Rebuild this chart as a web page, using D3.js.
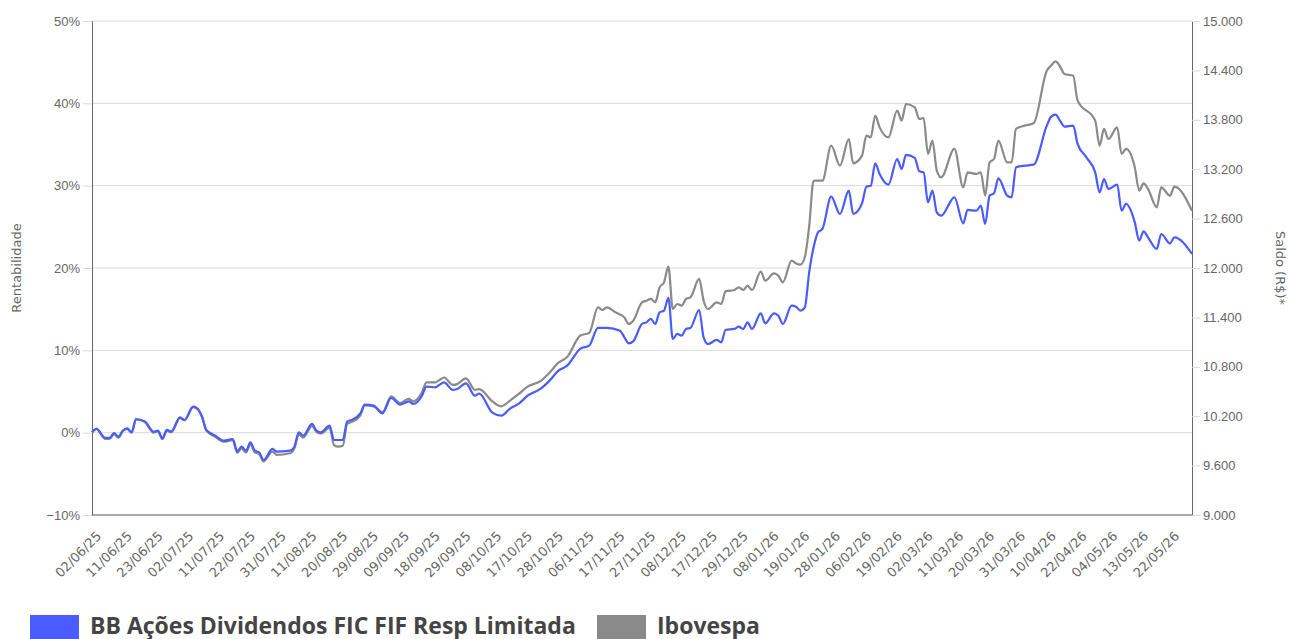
<html>
<head>
<meta charset="utf-8">
<script src="https://d3js.org/d3.v7.min.js"></script>
<style>
	body {margin: 0; background: #fff;}
	svg {display: block; font-family: "DejaVu Sans", sans-serif;}
</style>
</head>
<body>
<div id="chart"></div>
<script>
// rotulos do eixo x (um a cada 7 pregoes)
var rotulosX = ["02/06/25","11/06/25","23/06/25","02/07/25","11/07/25","22/07/25","31/07/25","11/08/25",
	"20/08/25","29/08/25","09/09/25","18/09/25","29/09/25","08/10/25","17/10/25","28/10/25","06/11/25",
	"17/11/25","27/11/25","08/12/25","17/12/25","29/12/25","08/01/26","19/01/26","28/01/26","06/02/26",
	"19/02/26","02/03/26","11/03/26","20/03/26","31/03/26","10/04/26","22/04/26","04/05/26","13/05/26","22/05/26"];
var totalPregoes = 251;

var ticksRent = [-10, 0, 10, 20, 30, 40, 50];
var ticksSaldo = [9000, 9600, 10200, 10800, 11400, 12000, 12600, 13200, 13800, 14400, 15000];

var nomeFundo = "BB Ações Dividendos FIC FIF Resp Limitada";
var nomeIbov = "Ibovespa";

// rentabilidade do fundo (% acumulado) por numero do pregao
var diasFundo = [0,1,3,4,5,6,7,8,9,10,12,14,15,16,17,18,20,21,23,24,25,26,28,30,32,33,34,35,36,37,38,39,41,42,45,46,47,48,
	50,51,52,54,55,56,57,58,59,61,62,64,66,68,70,72,73,75,76,78,79,80,82,83,85,87,88,91,93,95,97,99,102,104,106,108,
	111,113,115,117,120,121,122,123,125,126,127,128,129,130,131,132,133,134,135,136,138,139,140,142,143,144,146,147,
	148,149,150,152,153,155,156,157,159,160,161,162,163,164,165,166,168,170,172,173,175,176,177,178,179,181,183,184,
	185,187,188,189,190,191,192,193,196,198,199,201,202,203,204,205,206,208,209,210,212,214,217,218,219,220,221,223,
	224,226,228,229,230,231,233,234,235,237,238,239,240,242,243,245,246,250];
var fundo = [0.04,0.45,-0.64,-0.64,-0.04,-0.49,0.24,0.52,0.04,1.66,1.37,0.12,0.24,-0.69,0.33,0.12,1.86,1.54,3.16,2.9,1.95,
	0.33,-0.36,-0.97,-0.77,-2.27,-1.70,-2.19,-1.18,-2.19,-2.39,-3.32,-1.98,-2.31,-2.19,-1.70,0.04,-0.36,1.06,0.24,0.04,
	0.85,-0.89,-0.89,-0.89,1.37,1.54,2.34,3.40,3.28,2.34,4.21,3.40,3.80,3.49,4.49,5.59,5.50,5.83,6.11,5.19,5.31,5.99,
	4.49,4.74,2.43,2.06,2.92,3.52,4.49,5.34,6.32,7.53,8.14,10.2,10.57,12.72,12.72,12.39,11.58,10.85,11.09,13.20,13.40,
	13.81,13.20,14.61,14.82,16.36,11.38,11.99,11.78,12.60,12.72,14.90,11.58,10.77,11.26,10.97,12.47,12.60,12.88,12.60,
	13.40,12.60,14.49,13.28,14.49,14.21,13.20,15.43,15.30,14.82,15.22,19.5,22.51,24.33,24.74,28.66,26.56,29.39,26.56,
	27.85,29.88,30.0,32.71,31.42,30.12,33.24,32.03,33.73,33.37,31.74,31.62,27.97,29.39,26.76,26.36,28.58,25.42,27.05,
	26.96,27.57,25.35,28.79,29.07,30.89,28.79,28.58,32.22,32.43,32.55,37.29,38.38,38.63,37.90,37.17,37.29,35.07,33.44,
	31.62,29.19,30.81,29.60,30.12,26.96,27.78,25.54,23.32,24.45,23.72,22.31,24.13,22.99,23.72,21.71];

// rentabilidade do Ibovespa
var diasIbov = [0,1,3,4,5,6,7,8,9,10,12,14,15,16,17,18,20,21,23,24,25,26,28,30,32,33,34,35,36,37,38,39,41,42,45,46,47,48,
	50,51,52,54,55,56,57,58,59,61,62,64,66,68,70,72,73,75,76,78,79,80,82,83,85,87,88,91,93,95,97,99,102,104,106,108,
	111,113,115,116,117,119,121,122,123,125,126,127,128,129,130,131,132,133,134,135,136,138,139,140,142,143,144,146,
	147,148,149,150,152,153,155,156,157,159,160,161,162,163,164,166,168,170,172,173,175,176,177,178,179,181,183,184,
	185,187,188,189,190,191,192,193,196,198,199,201,202,203,204,205,206,208,209,210,212,214,217,218,219,220,221,223,
	224,228,229,230,231,233,234,235,237,238,239,240,242,243,245,246,250];
var ibov = [0.04,0.45,-0.75,-0.75,-0.2,-0.6,0.2,0.45,0.0,1.6,1.3,0.0,0.15,-0.8,0.25,0.05,1.8,1.5,3.1,2.85,1.9,0.25,-0.5,
	-1.1,-0.9,-2.45,-1.9,-2.4,-1.4,-2.4,-2.6,-3.5,-2.3,-2.7,-2.5,-1.9,-0.2,-0.6,0.8,0.1,-0.1,0.6,-1.5,-1.7,-1.6,1.1,1.3,
	2.1,3.3,3.2,2.5,4.4,3.6,4.1,3.8,4.9,6.1,6.1,6.4,6.7,5.8,5.9,6.6,5.2,5.3,3.8,3.2,3.9,4.7,5.6,6.3,7.3,8.5,9.2,11.8,12.1,
	15.22,14.9,15.22,14.61,14.00,13.20,13.60,15.83,16.03,16.24,15.83,17.65,18.26,20.16,15.02,15.63,15.43,16.24,16.43,
	18.67,16.03,15.02,15.83,15.63,17.16,17.33,17.65,17.33,17.85,17.33,19.56,18.46,19.35,19.07,18.26,20.89,20.56,20.41,
	21.3,25.1,30.6,30.61,34.86,32.43,35.67,32.71,33.65,36.07,35.87,38.50,37.08,35.87,39.11,37.90,39.92,39.51,38.10,
	38.22,33.85,35.47,31.82,31.01,34.46,29.79,31.62,31.42,31.62,28.79,32.83,33.24,35.47,32.83,32.83,36.89,37.29,37.57,
	43.97,44.6,45.10,44.5,43.57,43.36,40.33,37.90,34.86,36.89,35.67,37.08,33.85,34.46,32.22,29.39,30.28,29.60,27.37,
	29.79,28.79,29.88,26.96];

var corFundo = "#4a5bff";
var corIbov = "#8a8a8a";

var width = 1289, height = 639;
var margem = {left: 92, right: 97, top: 21, bottom: 124};

var svg = d3.select("#chart").append("svg")
	.attr("width", width)
	.attr("height", height);

var x = d3.scaleLinear().domain([0, totalPregoes - 1]).range([margem.left, width - margem.right]);
var y = d3.scaleLinear().domain([-10, 50]).range([height - margem.bottom, margem.top]);
var y2 = d3.scaleLinear().domain([9000, 15000]).range([height - margem.bottom, margem.top]);

var br = d3.formatLocale({decimal: ",", thousands: ".", grouping: [3], currency: ["R$ ", ""]});

// linhas de grade
svg.append("g")
	.selectAll("line")
	.data(ticksRent)
	.enter()
	.append("line")
	.attr("x1", margem.left)
	.attr("x2", width - margem.right)
	.attr("y1", function(d) { return y(d); })
	.attr("y2", function(d) { return y(d); })
	.style("stroke", "#d9d9d9")
	.style("stroke-width", 1);

// eixo esquerdo
var eixoEsq = svg.append("g")
	.attr("transform", "translate(" + margem.left + ",0)")
	.call(d3.axisLeft(y).tickValues(ticksRent).tickSize(9).tickPadding(3)
		.tickFormat(function(d) { return (d < 0 ? "\u2212" + (-d) : d) + "%"; }));

// eixo direito
var eixoDir = svg.append("g")
	.attr("transform", "translate(" + (width - margem.right) + ",0)")
	.call(d3.axisRight(y2).tickValues(ticksSaldo).tickSize(8).tickPadding(3)
		.tickFormat(br.format(",d")));

[eixoEsq, eixoDir].forEach(function(g) {
	g.select(".domain").style("stroke", "#666");
	g.selectAll(".tick line").style("stroke", "#d9d9d9");
	g.selectAll(".tick text").style("fill", "#666").style("font-size", "13px");
});

// eixo x
svg.append("line")
	.attr("x1", margem.left)
	.attr("x2", width - margem.right)
	.attr("y1", y(-10))
	.attr("y2", y(-10))
	.style("stroke", "#666");

svg.append("g")
	.selectAll("text")
	.data(rotulosX)
	.enter()
	.append("text")
	.attr("transform", function(d, i) {
		return "translate(" + (x(i * 7) + 10) + "," + (y(-10) + 22) + ") rotate(-45)";
	})
	.attr("text-anchor", "end")
	.style("font-size", "13px")
	.style("fill", "#666")
	.text(function(d) { return d; });

// titulos dos eixos
svg.append("text")
	.attr("transform", "translate(21," + ((y(50) + y(-10)) / 2) + ") rotate(-90)")
	.attr("text-anchor", "middle")
	.style("font-size", "13px")
	.style("fill", "#666")
	.text("Rentabilidade");

svg.append("text")
	.attr("transform", "translate(1276," + ((y(50) + y(-10)) / 2) + ") rotate(90)")
	.attr("text-anchor", "middle")
	.style("font-size", "13px")
	.style("fill", "#666")
	.text("Saldo (R$)*");

// series
var linha = d3.line()
	.x(function(d) { return x(d[0]); })
	.y(function(d) { return y(d[1]); })
	.curve(d3.curveMonotoneX);

svg.append("path")
	.datum(d3.zip(diasIbov, ibov))
	.attr("d", linha)
	.style("fill", "none")
	.style("stroke", corIbov)
	.style("stroke-width", 2.2);

svg.append("path")
	.datum(d3.zip(diasFundo, fundo))
	.attr("d", linha)
	.style("fill", "none")
	.style("stroke", corFundo)
	.style("stroke-width", 2.2);

// legenda
var legenda = [
	{nome: nomeFundo, cor: corFundo, x: 30},
	{nome: nomeIbov, cor: corIbov, x: 597}
];
var itens = svg.append("g").selectAll("g")
	.data(legenda)
	.enter()
	.append("g")
	.attr("transform", function(d) { return "translate(" + d.x + ",615)"; });

itens.append("rect")
	.attr("width", 49)
	.attr("height", 26)
	.style("fill", function(d) { return d.cor; });

itens.append("text")
	.attr("x", 60)
	.attr("y", 19)
	.style("font-family", "'Open Sans', sans-serif")
	.style("font-weight", "bold")
	.style("font-size", "23px")
	.style("fill", "#444")
	.text(function(d) { return d.nome; });
</script>
</body>
</html>
